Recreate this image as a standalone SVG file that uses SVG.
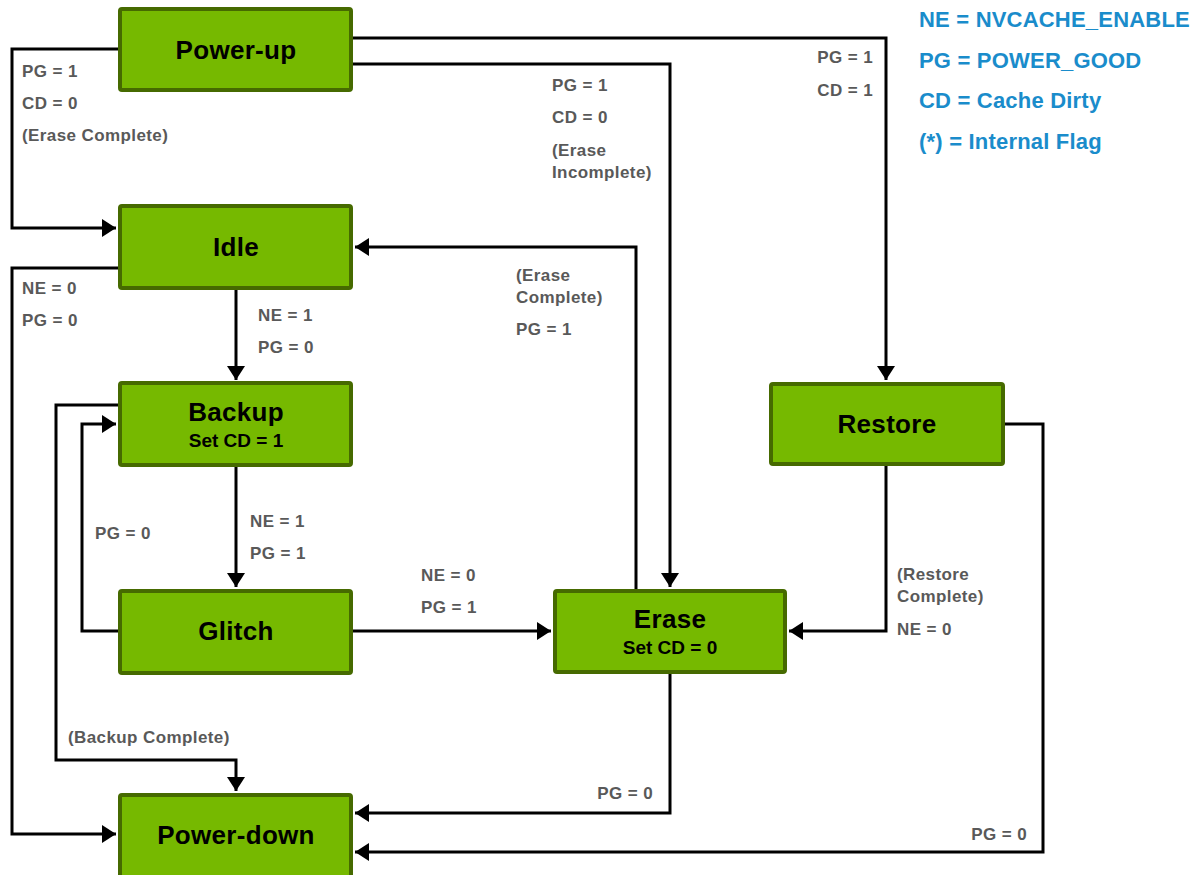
<svg xmlns="http://www.w3.org/2000/svg" width="1194" height="875" viewBox="0 0 1194 875">
<style>
.node rect{fill:#76b900;stroke:#466a00;stroke-width:4}
.title{font-family:"Liberation Sans",Arial,sans-serif;font-weight:bold;font-size:26px;fill:#000;text-anchor:middle;letter-spacing:0.3px}
.sub{font-family:"Liberation Sans",Arial,sans-serif;font-weight:bold;font-size:19px;fill:#000;text-anchor:middle}
.lbl{font-family:"Liberation Sans",Arial,sans-serif;font-weight:bold;font-size:17px;fill:#595959;letter-spacing:0.4px}
.end{text-anchor:end}
.leg{font-family:"Liberation Sans",Arial,sans-serif;font-weight:bold;font-size:22px;fill:#1a8ccb;letter-spacing:0.2px}
.conn path{fill:none;stroke:#000;stroke-width:3;stroke-linejoin:miter}
.conn path.a{marker-end:url(#arr)}
</style>
<defs>
<marker id="arr" markerUnits="userSpaceOnUse" markerWidth="14" markerHeight="18" refX="14" refY="9" orient="auto">
<path d="M0,0 L14,9 L0,18 Z" fill="#000"/>
</marker>
</defs>
<rect width="1194" height="875" fill="#fff"/>
<g id="connectors" class="conn">
<path class="a" d="M118,49 H12 V228 H116"/>
<path class="a" d="M353,38 H886 V380"/>
<path class="a" d="M353,64 H670 V587"/>
<path class="a" d="M636,589 V247 H355"/>
<path class="a" d="M118,268 H12 V834 H116"/>
<path class="a" d="M236,290 V380"/>
<path class="a" d="M118,405 H56 V760 H236 V791"/>
<path class="a" d="M118,631 H82 V424 H116"/>
<path class="a" d="M236,466 V587"/>
<path class="a" d="M353,631 H551"/>
<path class="a" d="M886,466 V631 H789"/>
<path class="a" d="M670,674 V813 H355"/>
<path class="a" d="M1005,424 H1043 V852 H355"/>
</g>
<g id="labels">
<text class="lbl" x="22" y="77">PG = 1</text>
<text class="lbl" x="22" y="109">CD = 0</text>
<text class="lbl" x="22" y="141">(Erase Complete)</text>
<text class="lbl end" x="873" y="63">PG = 1</text>
<text class="lbl end" x="873" y="96">CD = 1</text>
<text class="lbl" x="552" y="91">PG = 1</text>
<text class="lbl" x="552" y="123">CD = 0</text>
<text class="lbl" x="552" y="156">(Erase</text>
<text class="lbl" x="552" y="178">Incomplete)</text>
<text class="lbl" x="516" y="281">(Erase</text>
<text class="lbl" x="516" y="303">Complete)</text>
<text class="lbl" x="516" y="335">PG = 1</text>
<text class="lbl" x="22" y="294">NE = 0</text>
<text class="lbl" x="22" y="326">PG = 0</text>
<text class="lbl" x="258" y="321">NE = 1</text>
<text class="lbl" x="258" y="353">PG = 0</text>
<text class="lbl" x="250" y="527">NE = 1</text>
<text class="lbl" x="250" y="559">PG = 1</text>
<text class="lbl" x="95" y="539">PG = 0</text>
<text class="lbl" x="421" y="581">NE = 0</text>
<text class="lbl" x="421" y="613">PG = 1</text>
<text class="lbl" x="897" y="580">(Restore</text>
<text class="lbl" x="897" y="602">Complete)</text>
<text class="lbl" x="897" y="635">NE = 0</text>
<text class="lbl" x="68" y="743">(Backup Complete)</text>
<text class="lbl end" x="653" y="799">PG = 0</text>
<text class="lbl end" x="1027" y="840">PG = 0</text>
</g>
<g id="legend">
<text class="leg" x="919" y="27">NE = NVCACHE_ENABLE</text>
<text class="leg" x="919" y="68">PG = POWER_GOOD</text>
<text class="leg" x="919" y="108">CD = Cache Dirty</text>
<text class="leg" x="919" y="149">(*) = Internal Flag</text>
</g>
<g id="power-up" class="node"><rect x="120" y="9" width="231" height="81" rx="2"/><text class="title" x="236" y="59">Power-up</text></g>
<g id="idle" class="node"><rect x="120" y="206" width="231" height="82" rx="2"/><text class="title" x="236" y="256">Idle</text></g>
<g id="backup" class="node"><rect x="120" y="383" width="231" height="82" rx="2"/><text class="title" x="236" y="421">Backup</text><text class="sub" x="236" y="447">Set CD = 1</text></g>
<g id="glitch" class="node"><rect x="120" y="591" width="231" height="82" rx="2"/><text class="title" x="236" y="640">Glitch</text></g>
<g id="power-down" class="node"><rect x="120" y="795" width="231" height="90" rx="2"/><text class="title" x="236" y="844">Power-down</text></g>
<g id="erase" class="node"><rect x="555" y="591" width="230" height="81" rx="2"/><text class="title" x="670" y="628">Erase</text><text class="sub" x="670" y="654">Set CD = 0</text></g>
<g id="restore" class="node"><rect x="771" y="384" width="232" height="80" rx="2"/><text class="title" x="887" y="433">Restore</text></g>
</svg>
